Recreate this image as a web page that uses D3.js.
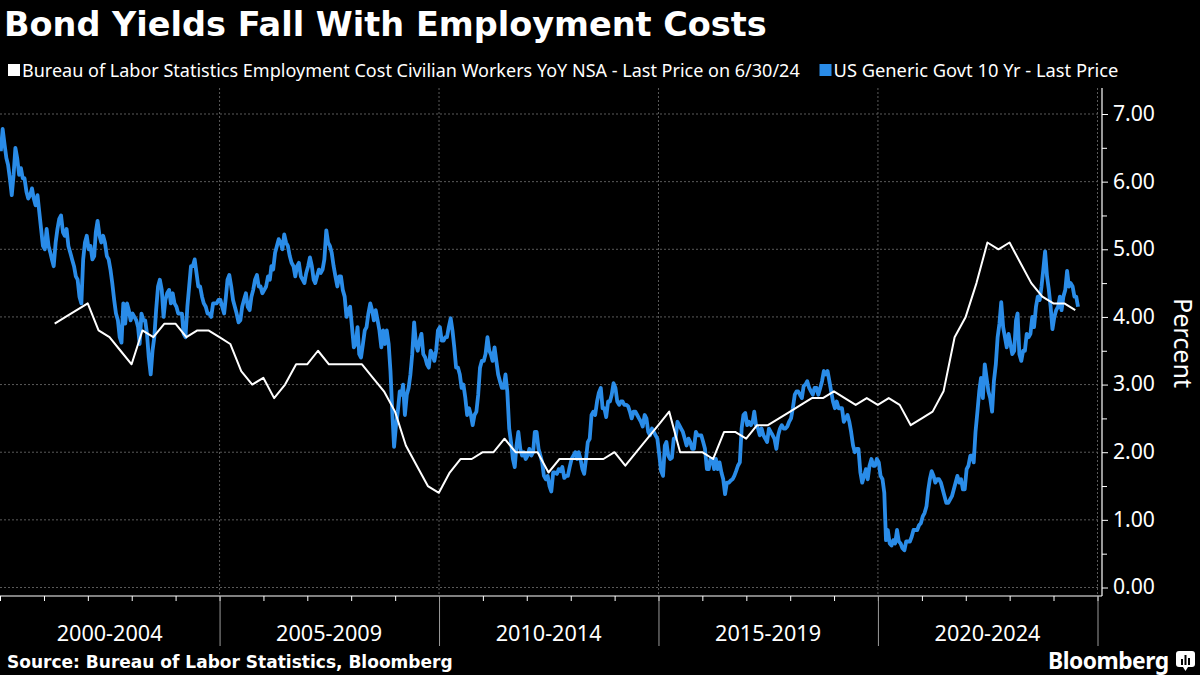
<!DOCTYPE html>
<html><head><meta charset="utf-8">
<script src="https://cdn.jsdelivr.net/npm/d3@7"></script>
<style>html,body{margin:0;padding:0;background:#000;} svg{display:block;}</style>
</head><body><svg id="c" width="1200" height="675"></svg>
<script>
// ---------------- DATA ----------------
const titleText = "Bond Yields Fall With Employment Costs";
const legendLabels = [
  "Bureau of Labor Statistics Employment Cost Civilian Workers YoY NSA - Last Price on 6/30/24",
  "US Generic Govt 10 Yr - Last Price"
];
const xBandLabels = ["2000-2004", "2005-2009", "2010-2014", "2015-2019", "2020-2024"];
const yTickValues = [0, 1, 2, 3, 4, 5, 6, 7];
const yAxisTitle = "Percent";
const sourceText = "Source: Bureau of Labor Statistics, Bloomberg";

// ECI civilian workers YoY (%), quarterly, quarter-end, starting 2001 Q1
const eciStartYear = 2001;
const eciYoY = [
  3.9, 4.0, 4.1, 4.2,
  3.8, 3.7, 3.5, 3.3,
  3.8, 3.7, 3.9, 3.9,
  3.7, 3.8, 3.8, 3.7,
  3.6, 3.2, 3.0, 3.1,
  2.8, 3.0, 3.3, 3.3,
  3.5, 3.3, 3.3, 3.3,
  3.3, 3.1, 2.9, 2.6,
  2.1, 1.8, 1.5, 1.4,
  1.7, 1.9, 1.9, 2.0,
  2.0, 2.2, 2.0, 2.0,
  2.0, 1.7, 1.9, 1.9,
  1.9, 1.9, 1.9, 2.0,
  1.8, 2.0, 2.2, 2.4,
  2.6, 2.0, 2.0, 2.0,
  1.9, 2.3, 2.3, 2.2,
  2.4, 2.4, 2.5, 2.6,
  2.7, 2.8, 2.8, 2.9,
  2.8, 2.7, 2.8, 2.7,
  2.8, 2.7, 2.4, 2.5,
  2.6, 2.9, 3.7, 4.0,
  4.5, 5.1, 5.0, 5.1,
  4.8, 4.5, 4.3, 4.2,
  4.2, 4.1
];

// US 10Y yield (%), two readings per month (~8th and ~23rd)
const tsy2000_04 = [
  6.45,6.78, 6.55,6.35, 6.25,6.05, 5.80,6.10, 6.50,6.35, 6.10,6.20, 6.05,6.05, 5.85,5.75, 5.80,5.90, 5.75,5.65, 5.80,5.55, 5.30,5.05,
  5.00,5.30, 5.05,4.95, 4.85,4.75, 5.10,5.30, 5.45,5.50, 5.25,5.20, 5.30,5.05, 4.95,4.85, 4.75,4.60, 4.55,4.30, 4.20,4.85, 5.10,5.20,
  5.00,5.05, 4.85,4.90, 5.25,5.42, 5.20,5.10, 5.20,5.10, 4.90,4.85, 4.70,4.50, 4.25,4.05, 3.95,3.70, 3.62,4.20, 3.90,4.20, 4.10,3.95,
  4.05,4.00, 3.95,3.85, 3.60,4.05, 3.95,3.95, 3.75,3.40, 3.15,3.50, 3.70,4.10, 4.45,4.55, 4.40,4.00, 4.25,4.35, 4.40,4.20, 4.35,4.20,
  4.15,4.05, 4.05,4.05, 3.75,3.70, 4.15,4.45, 4.75,4.75, 4.85,4.65, 4.45,4.45, 4.30,4.20, 4.15,4.05, 4.05,4.00, 4.20,4.20, 4.20,4.25
];
const tsy2005_09 = [
  4.25,4.15, 4.05,4.30, 4.55,4.62, 4.45,4.25, 4.15,4.05, 3.92,3.95, 4.15,4.25, 4.35,4.15, 4.10,4.30, 4.40,4.55, 4.62,4.45, 4.45,4.35,
  4.40,4.45, 4.60,4.55, 4.75,4.70, 4.95,5.05, 5.15,5.10, 5.00,5.22, 5.10,5.05, 4.90,4.80, 4.75,4.60, 4.75,4.80, 4.60,4.55, 4.50,4.65,
  4.75,4.88, 4.75,4.55, 4.50,4.60, 4.70,4.65, 4.70,4.85, 5.28,5.10, 5.05,4.95, 4.75,4.60, 4.45,4.60, 4.60,4.40, 4.30,4.00, 4.10,4.15,
  3.85,3.55, 3.60,3.85, 3.45,3.40, 3.60,3.80, 3.85,4.05, 4.20,4.10, 3.95,4.10, 3.95,3.80, 3.55,3.80, 3.60,3.80, 3.60,3.20, 2.60,2.08,
  2.40,2.60, 2.90,2.85, 3.00,2.55, 2.85,2.95, 3.15,3.45, 3.92,3.60, 3.50,3.65, 3.75,3.45, 3.40,3.30, 3.25,3.50, 3.45,3.35, 3.50,3.80
];
const tsy2010_14 = [
  3.85,3.65, 3.65,3.70, 3.70,3.85, 3.98,3.80, 3.55,3.25, 3.25,3.15, 2.95,3.00, 2.80,2.55, 2.65,2.55, 2.40,2.55, 2.60,2.85, 3.25,3.35,
  3.35,3.45, 3.70,3.50, 3.45,3.35, 3.55,3.35, 3.15,3.05, 2.95,2.95, 3.15,2.90, 2.35,2.15, 1.90,1.78, 2.10,2.30, 2.05,1.95, 2.00,1.90,
  1.95,2.05, 1.95,2.00, 2.30,2.30, 2.05,1.95, 1.85,1.65, 1.60,1.65, 1.50,1.42, 1.70,1.70, 1.68,1.75, 1.72,1.78, 1.62,1.65, 1.65,1.78,
  1.90,1.95, 2.00,1.90, 2.00,1.90, 1.75,1.68, 1.90,2.15, 2.20,2.55, 2.60,2.55, 2.75,2.88, 2.95,2.65, 2.65,2.52, 2.75,2.75, 2.85,3.02,
  2.95,2.75, 2.70,2.75, 2.75,2.70, 2.70,2.68, 2.60,2.50, 2.60,2.60, 2.55,2.50, 2.45,2.38, 2.55,2.50, 2.30,2.25, 2.35,2.30, 2.25,2.20
];
const tsy2015_19 = [
  1.95,1.72, 1.65,2.10, 2.15,1.95, 1.90,1.92, 2.20,2.20, 2.45,2.40, 2.35,2.30, 2.20,2.10, 2.20,2.15, 2.05,2.05, 2.30,2.25, 2.25,2.25,
  2.15,2.05, 1.75,1.75, 1.90,1.90, 1.75,1.90, 1.75,1.85, 1.70,1.60, 1.38,1.55, 1.55,1.58, 1.60,1.65, 1.72,1.80, 1.85,2.35, 2.55,2.58,
  2.40,2.45, 2.40,2.45, 2.60,2.40, 2.35,2.25, 2.35,2.25, 2.20,2.15, 2.35,2.30, 2.25,2.20, 2.05,2.25, 2.35,2.40, 2.35,2.35, 2.38,2.45,
  2.50,2.65, 2.85,2.90, 2.90,2.85, 2.80,2.98, 3.00,3.05, 2.95,2.90, 2.85,2.95, 2.95,2.85, 2.95,3.05, 3.20,3.15, 3.20,3.05, 2.90,2.75,
  2.65,2.75, 2.65,2.65, 2.65,2.45, 2.50,2.55, 2.45,2.30, 2.10,2.00, 2.05,2.05, 1.70,1.55, 1.65,1.75, 1.60,1.80, 1.90,1.80, 1.80,1.90
];
const tsy2020_24 = [
  1.85,1.65, 1.60,1.40, 0.70,0.85, 0.65,0.62, 0.70,0.65, 0.85,0.68, 0.65,0.58, 0.55,0.68, 0.68,0.68, 0.75,0.85, 0.85,0.85, 0.92,0.95,
  1.05,1.10, 1.20,1.45, 1.60,1.72, 1.65,1.55, 1.60,1.60, 1.55,1.45, 1.35,1.25, 1.25,1.30, 1.35,1.45, 1.55,1.65, 1.55,1.60, 1.45,1.45,
  1.75,1.80, 1.95,1.95, 1.85,2.30, 2.60,2.90, 3.10,2.80, 3.30,3.10, 2.90,2.80, 2.60,3.05, 3.30,3.70, 3.90,4.22, 3.85,3.70, 3.55,3.75,
  3.60,3.45, 3.50,3.95, 4.05,3.45, 3.35,3.50, 3.50,3.75, 3.70,3.75, 4.00,3.85, 4.15,4.30, 4.25,4.45, 4.70,4.97, 4.60,4.40, 4.15,3.82,
  4.00,4.10, 4.15,4.30, 4.10,4.30, 4.40,4.68, 4.45,4.50, 4.45,4.30, 4.30,4.15
];

// ---------------- LAYOUT ----------------
const FONT = "'Noto Sans', 'DejaVu Sans', sans-serif";
const BOLDFONT = "'DejaVu Sans', 'Noto Sans', sans-serif";
const BLUE = "#2a8ce8";
const svg = d3.select("#c");
svg.append("rect").attr("width", 1200).attr("height", 675).attr("fill", "#000");

const plotLeft = 0, plotTop = 88, axisX = 1102, axisY = 596;
const x = d3.scaleTime().domain([new Date(2000, 0, 1), new Date(2025, 0, 1)]).range([0, 1097.5]);
const y = d3.scaleLinear().domain([0, 7]).range([587.5, 114]);

function fit(sel, w) {
  const cur = sel.node().getComputedTextLength();
  const fs = parseFloat(sel.attr("font-size"));
  sel.attr("font-size", fs * w / cur);
  return fs * w / cur;
}

// grid
const grid = svg.append("g");
grid.selectAll(".hg").data(yTickValues).join("line")
  .attr("x1", plotLeft).attr("x2", axisX - 2)
  .attr("y1", d => y(d)).attr("y2", d => y(d))
  .attr("stroke", "#5a5a5a").attr("stroke-width", 1).attr("stroke-dasharray", "2,2");
const fiveYears = [2005, 2010, 2015, 2020, 2025].map(yr => new Date(yr, 0, 1));
grid.selectAll(".vg").data(fiveYears).join("line")
  .attr("x1", d => x(d)).attr("x2", d => x(d))
  .attr("y1", plotTop).attr("y2", axisY)
  .attr("stroke", "#5a5a5a").attr("stroke-width", 1).attr("stroke-dasharray", "2,2");

// series
const tsyAll = [].concat(tsy2000_04, tsy2005_09, tsy2010_14, tsy2015_19, tsy2020_24);
const tsy = tsyAll.map((v, i) => ({
  date: new Date(2000 + Math.floor(i / 24), Math.floor((i % 24) / 2), i % 2 ? 23 : 8),
  value: v
}));
const eci = eciYoY.map((v, i) => ({
  date: new Date(eciStartYear + Math.floor(i / 4), (i % 4) * 3 + 3, 0),
  value: v
}));
const line = d3.line().x(d => x(d.date)).y(d => y(d.value));
svg.append("path").datum(tsy).attr("d", line)
  .attr("fill", "none").attr("stroke", BLUE).attr("stroke-width", 3.8).attr("stroke-linejoin", "round");
svg.append("path").datum(eci).attr("d", line)
  .attr("fill", "none").attr("stroke", "#fff").attr("stroke-width", 2).attr("stroke-linejoin", "round");

// x axis
svg.append("line").attr("x1", 0).attr("x2", axisX).attr("y1", axisY).attr("y2", axisY)
  .attr("stroke", "#fff").attr("stroke-width", 1.2);
const xMinor = svg.append("g").attr("transform", `translate(0,${axisY})`)
  .call(d3.axisBottom(x).ticks(d3.timeYear.every(1)).tickSize(5).tickFormat(""));
xMinor.select(".domain").remove();
xMinor.selectAll("line").attr("stroke", "#fff");
const xMajor = svg.append("g").attr("transform", `translate(0,${axisY})`)
  .call(d3.axisBottom(x).tickValues(fiveYears).tickSize(50).tickFormat(""));
xMajor.select(".domain").remove();
xMajor.selectAll("line").attr("stroke", "#9a9a9a");
const bandCenters = xBandLabels.map((_, i) => new Date(2002 + 5 * i, 6, 1));
const xl = svg.append("g").selectAll("text").data(xBandLabels).join("text")
  .attr("x", (d, i) => x(bandCenters[i])).attr("y", 641)
  .attr("text-anchor", "middle").attr("fill", "#fff")
  .attr("font-family", FONT).attr("font-size", 20).text(d => d);
const xfs = fit(d3.select(xl.nodes()[0]), 106);
xl.attr("font-size", xfs);

// y axis
svg.append("line").attr("x1", axisX).attr("x2", axisX).attr("y1", plotTop).attr("y2", axisY)
  .attr("stroke", "#fff").attr("stroke-width", 1.2);
const yAx = svg.append("g").attr("transform", `translate(${axisX},0)`)
  .call(d3.axisRight(y).tickValues(yTickValues).tickSize(6).tickPadding(5).tickFormat(d3.format(".2f")));
yAx.select(".domain").remove();
yAx.selectAll("line").attr("stroke", "#fff");
yAx.selectAll("text").attr("fill", "#fff").attr("font-family", FONT).attr("font-size", 20)
  .attr("dy", "0.3em");
const yfs = fit(d3.select(yAx.selectAll("text").nodes()[7]), 42);
yAx.selectAll("text").attr("font-size", yfs);
const yMinor = svg.append("g").attr("transform", `translate(${axisX},0)`)
  .call(d3.axisRight(y).tickValues(d3.range(0.5, 7, 1)).tickSize(5).tickFormat(""));
yMinor.select(".domain").remove();
yMinor.selectAll("line").attr("stroke", "#fff");
const yt = svg.append("text").attr("transform", "translate(1174,343) rotate(90)")
  .attr("text-anchor", "middle").attr("fill", "#fff")
  .attr("font-family", FONT).attr("font-size", 22).text(yAxisTitle);
fit(yt, 90);

// title
const tt = svg.append("text").attr("x", 4).attr("y", 36).attr("fill", "#fff")
  .attr("font-family", BOLDFONT).attr("font-weight", "bold").attr("font-size", 30).text(titleText);
fit(tt, 763);

// legend
const legColors = ["#fff", BLUE];
const legX = [8, 819.5];
const legW = [778, 285];
legendLabels.forEach((lab, i) => {
  svg.append("rect").attr("x", legX[i]).attr("y", 64).attr("width", 12).attr("height", 12).attr("fill", legColors[i]);
  const t = svg.append("text").attr("x", legX[i] + 14).attr("y", 76.5).attr("fill", "#fff")
    .attr("font-family", FONT).attr("font-size", 16).text(lab);
  fit(t, legW[i]);
});

// source + brand
const st = svg.append("text").attr("x", 7).attr("y", 668).attr("fill", "#fff")
  .attr("font-family", BOLDFONT).attr("font-weight", "bold").attr("font-size", 15).text(sourceText);
fit(st, 446);
const bt = svg.append("text").attr("x", 1048).attr("y", 669).attr("fill", "#fff")
  .attr("font-family", FONT).attr("font-weight", "bold").attr("font-size", 20).attr("letter-spacing", -0.5).text("Bloomberg");
fit(bt, 120);
const logo = svg.append("g").attr("transform", "translate(1176,651)");
logo.append("rect").attr("width", 19).attr("height", 16).attr("rx", 3).attr("fill", "#fff");
logo.append("path").attr("d", "M7,16 L9.5,20 L12,16 Z").attr("fill", "#fff");
[[5, 8, 6], [8.5, 4, 10], [12, 7, 7]].forEach(b => {
  logo.append("rect").attr("x", b[0]).attr("y", b[1]).attr("width", 2).attr("height", b[2]).attr("fill", "#000");
});
</script></body></html>
